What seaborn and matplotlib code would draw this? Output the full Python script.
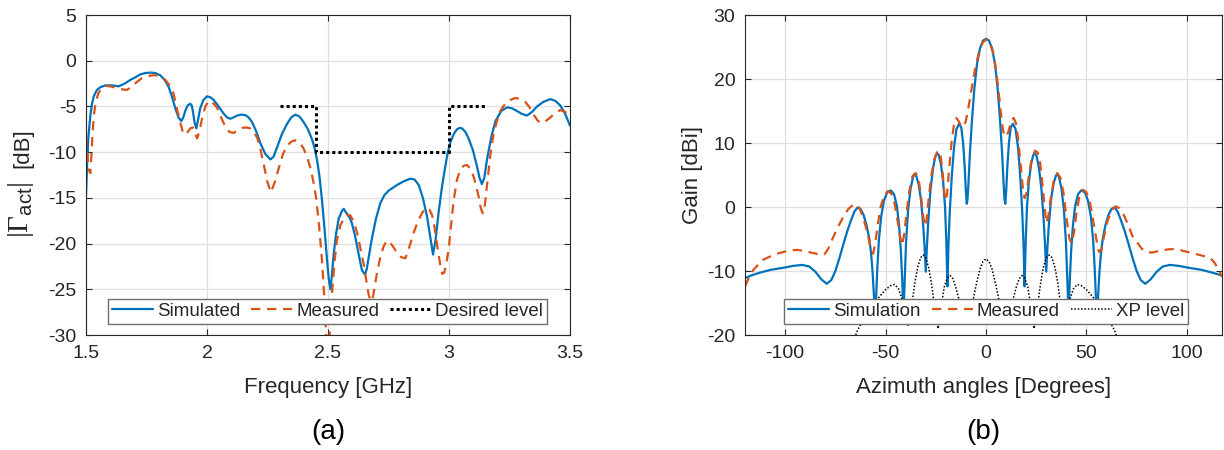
import numpy as np
import pandas as pd
import matplotlib
matplotlib.use("Agg")
import matplotlib.pyplot as plt
from matplotlib.ticker import FixedLocator, FixedFormatter
import seaborn as sns

# ---------------- data: panel (a) ----------------
sim_f = [1.500, 1.505, 1.510, 1.518, 1.525, 1.532, 1.545, 1.559, 1.580, 1.610, 1.635, 1.660, 1.683, 1.705, 1.724, 1.745, 1.766, 1.787, 1.807, 1.825, 1.842, 1.856, 1.869, 1.882, 1.894, 1.902, 1.910, 1.920, 1.931, 1.937, 1.942, 1.949, 1.956, 1.962, 1.972, 1.985, 2.000, 2.014, 2.028, 2.048, 2.069, 2.083, 2.096, 2.110, 2.124, 2.141, 2.158, 2.172, 2.186, 2.203, 2.220, 2.241, 2.262, 2.275, 2.289, 2.310, 2.331, 2.348, 2.365, 2.382, 2.399, 2.417, 2.434, 2.445, 2.455, 2.465, 2.475, 2.486, 2.496, 2.503, 2.510, 2.516, 2.523, 2.533, 2.544, 2.558, 2.565, 2.572, 2.580, 2.590, 2.599, 2.613, 2.627, 2.640, 2.653, 2.660, 2.667, 2.681, 2.698, 2.716, 2.733, 2.751, 2.768, 2.785, 2.812, 2.840, 2.858, 2.875, 2.892, 2.909, 2.922, 2.934, 2.945, 2.957, 2.971, 2.985, 2.995, 3.006, 3.020, 3.033, 3.044, 3.054, 3.068, 3.081, 3.099, 3.116, 3.126, 3.136, 3.146, 3.157, 3.175, 3.192, 3.216, 3.240, 3.260, 3.281, 3.300, 3.322, 3.343, 3.364, 3.390, 3.419, 3.440, 3.460, 3.480, 3.500]
sim_db = [-14.8, -11.0, -8.3, -6.0, -4.7, -3.9, -3.2, -2.9, -2.7, -2.7, -2.8, -2.5, -2.1, -1.8, -1.5, -1.35, -1.3, -1.35, -1.6, -2.1, -2.9, -4.0, -5.2, -6.2, -6.6, -6.2, -5.5, -4.9, -4.7, -4.9, -5.6, -6.8, -7.4, -6.6, -5.2, -4.3, -3.9, -4.0, -4.3, -5.0, -5.8, -6.2, -6.35, -6.2, -6.0, -5.9, -5.95, -6.2, -6.7, -7.7, -9.0, -10.2, -10.8, -10.5, -9.5, -8.0, -6.9, -6.2, -5.9, -6.1, -6.7, -7.5, -8.6, -9.6, -10.9, -12.7, -15.2, -18.5, -21.8, -23.8, -25.0, -23.5, -21.3, -19.0, -17.3, -16.4, -16.2, -16.5, -16.8, -17.2, -17.8, -19.3, -21.2, -22.9, -23.4, -22.8, -21.7, -19.5, -17.3, -15.6, -14.7, -14.2, -13.9, -13.6, -13.2, -12.9, -13.0, -13.6, -15.0, -17.0, -19.2, -21.2, -19.5, -16.6, -13.8, -11.5, -10.0, -8.9, -8.0, -7.5, -7.35, -7.4, -7.8, -8.5, -9.8, -11.6, -12.8, -13.5, -12.8, -10.8, -8.3, -6.6, -5.5, -5.1, -5.2, -5.5, -5.8, -6.0, -5.6, -5.0, -4.5, -4.2, -4.4, -4.9, -5.8, -7.1]

meas_f = [1.500, 1.505, 1.511, 1.518, 1.522, 1.527, 1.532, 1.540, 1.552, 1.566, 1.580, 1.600, 1.614, 1.640, 1.669, 1.690, 1.711, 1.732, 1.752, 1.773, 1.793, 1.810, 1.828, 1.845, 1.862, 1.876, 1.890, 1.900, 1.910, 1.920, 1.931, 1.942, 1.950, 1.959, 1.968, 1.979, 1.993, 2.007, 2.020, 2.041, 2.058, 2.076, 2.093, 2.110, 2.128, 2.145, 2.162, 2.179, 2.193, 2.207, 2.220, 2.234, 2.249, 2.264, 2.280, 2.296, 2.314, 2.331, 2.348, 2.365, 2.382, 2.399, 2.413, 2.427, 2.440, 2.452, 2.464, 2.475, 2.485, 2.493, 2.500, 2.507, 2.512, 2.517, 2.527, 2.537, 2.551, 2.565, 2.578, 2.592, 2.606, 2.620, 2.633, 2.647, 2.658, 2.668, 2.677, 2.686, 2.702, 2.716, 2.730, 2.741, 2.751, 2.768, 2.785, 2.803, 2.820, 2.837, 2.854, 2.871, 2.888, 2.900, 2.909, 2.920, 2.930, 2.940, 2.951, 2.963, 2.972, 2.980, 2.990, 2.999, 3.009, 3.019, 3.033, 3.047, 3.060, 3.074, 3.088, 3.102, 3.113, 3.123, 3.132, 3.140, 3.148, 3.157, 3.170, 3.184, 3.198, 3.212, 3.232, 3.253, 3.270, 3.281, 3.298, 3.315, 3.333, 3.350, 3.365, 3.378, 3.395, 3.419, 3.440, 3.460, 3.480, 3.500]
meas_db = [-8.3, -10.0, -11.9, -12.3, -10.5, -8.0, -6.1, -4.5, -3.5, -3.0, -2.75, -2.8, -2.9, -3.1, -3.2, -2.8, -2.3, -1.9, -1.7, -1.6, -1.6, -1.8, -2.1, -2.7, -3.6, -5.3, -6.8, -7.8, -8.1, -7.8, -7.4, -7.3, -7.9, -8.5, -7.8, -6.4, -5.0, -4.4, -4.5, -5.1, -6.2, -7.2, -7.8, -7.9, -7.6, -7.35, -7.3, -7.4, -7.8, -8.4, -9.6, -11.3, -13.2, -14.4, -13.3, -11.8, -10.2, -9.3, -8.85, -8.7, -8.9, -9.6, -10.5, -11.7, -13.3, -15.2, -18.3, -21.8, -26.0, -30.5, -32.0, -30.0, -27.5, -25.3, -22.0, -19.6, -18.0, -17.3, -16.9, -16.9, -17.6, -18.8, -20.4, -22.2, -24.0, -25.6, -26.3, -25.8, -23.3, -21.5, -20.3, -19.8, -19.7, -20.3, -21.0, -21.5, -21.6, -20.3, -18.8, -17.6, -16.7, -16.2, -16.1, -16.3, -16.9, -18.2, -20.2, -22.2, -23.3, -23.2, -22.0, -20.5, -17.9, -15.3, -13.0, -11.9, -11.5, -11.4, -11.8, -12.7, -13.8, -14.9, -16.2, -16.7, -15.8, -13.6, -10.5, -8.0, -6.6, -5.5, -4.7, -4.3, -4.1, -4.1, -4.25, -4.5, -5.1, -5.9, -6.5, -6.8, -6.7, -6.2, -5.7, -5.4, -5.6, -6.2]

des_f = [2.30, 2.45, 2.45, 3.00, 3.00, 3.15]
des_db = [-5, -5, -10, -10, -5, -5]

# ---------------- data: panel (b) ----------------
simb_deg = [-120, -116, -112, -107, -101, -96, -91.5, -88, -85, -82, -79.3, -77, -75, -73, -71, -69, -67, -65.5, -64, -62.5, -61, -59.5, -58.2, -57.2, -56.4, -55.8, -55.2, -54.7, -54.1, -53.3, -52.2, -50.8, -49.2, -47.4, -45.8, -44.4, -43.3, -42.4, -41.7, -41.1, -40.5, -39.8, -38.8, -37.6, -36.4, -35.8, -34.8, -33.6, -32.4, -31.4, -30.6, -30.0, -29.4, -28.6, -27.6, -26.4, -25.3, -24.5, -23.5, -22.4, -21.3, -20.4, -19.8, -19.2, -18.7, -18.0, -17.0, -15.9, -14.7, -13.4, -12.3, -11.4, -10.6, -10.1, -9.6, -9.2, -8.7, -8.0, -7.0, -5.8, -4.5, -3.0, -1.5, 0,
            1.5, 3.0, 4.5, 5.8, 7.0, 8.0, 8.7, 9.2, 9.6, 10.1, 10.6, 11.4, 12.3, 13.4, 14.7, 15.9, 17.0, 18.0, 18.7, 19.2, 19.8, 20.4, 21.3, 22.4, 23.5, 24.5, 25.3, 26.4, 27.6, 28.6, 29.4, 30.0, 30.6, 31.4, 32.4, 33.6, 34.8, 35.8, 36.4, 37.6, 38.8, 39.8, 40.5, 41.1, 41.7, 42.4, 43.3, 44.4, 45.8, 47.4, 49.2, 50.8, 52.2, 53.3, 54.1, 54.7, 55.2, 55.8, 56.4, 57.2, 58.2, 59.5, 61, 62.5, 64, 65.5, 67, 69, 71, 73, 75, 77, 79.3, 82, 85, 88, 91.5, 96, 101, 107, 112, 117.5]
simb_db = [-11.1, -10.6, -10.2, -9.8, -9.5, -9.2, -9.05, -9.3, -10.1, -11.3, -12.0, -11.4, -10.0, -8.0, -5.8, -3.7, -1.9, -0.7, -0.1, -0.3, -1.2, -2.8, -4.8, -7.3, -10.5, -14, -17.2, -14, -9.5, -5.0, -1.5, 1.0, 2.3, 2.6, 2.0, 0.2, -2.8, -6.8, -11.5, -17.2, -11.5, -5.5, -0.5, 2.8, 4.6, 5.1, 4.9, 3.6, 1.2, -2.3, -6.2, -10.1, -6.0, -1.5, 2.8, 6.0, 7.8, 8.4, 8.1, 6.6, 3.8, 0.0, -5.0, -12.4, -6.0, -0.5, 5.0, 9.4, 12.2, 13.0, 12.4, 10.0, 6.2, 2.8, 0.5, 1.2, 4.0, 8.5, 13.5, 18.5, 22.3, 24.8, 26.0, 26.3,
           26.0, 24.8, 22.3, 18.5, 13.5, 8.5, 4.0, 1.2, 0.5, 2.8, 6.2, 10.0, 12.4, 13.0, 12.2, 9.4, 5.0, -0.5, -6.0, -12.4, -5.0, 0.0, 3.8, 6.6, 8.1, 8.4, 7.8, 6.0, 2.8, -1.5, -6.0, -10.1, -6.2, -2.3, 1.2, 3.6, 4.9, 5.1, 4.6, 2.8, -0.5, -5.5, -11.5, -17.2, -11.5, -6.8, -2.8, 0.2, 2.0, 2.6, 2.3, 1.0, -1.5, -5.0, -9.5, -14, -17.2, -14, -10.5, -7.3, -4.8, -2.8, -1.2, -0.3, -0.05, -0.7, -1.9, -3.7, -5.8, -8.0, -10.0, -11.4, -12.0, -11.3, -10.1, -9.3, -9.05, -9.2, -9.5, -9.8, -10.2, -10.7]

measb_deg = [-120, -118, -116, -114, -112, -108, -103, -98, -94, -90, -86, -83, -80.5, -78.5, -76.5, -74, -71, -68.5, -66, -64.5, -63, -61.5, -60, -58.5, -57.2, -56.2, -55.2, -54, -52.5, -50.8, -48.8, -47, -45.5, -44, -42.8, -41.8, -40.8, -39.6, -38.2, -36.6, -35, -33.6, -32.4, -31.4, -30.4, -29.6, -28.5, -27.2, -25.6, -24, -22.6, -21.6, -20.8, -20.2, -19.4, -18.4, -17.2, -16, -14.8, -13.6, -12.4, -11.2, -10, -8.6, -7, -5.3, -3.5, -1.8, 0,
             1.8, 3.5, 5.0, 6.3, 7.3, 8.2, 9.0, 10.0, 11.2, 12.6, 13.8, 15.0, 16.2, 17.4, 18.4, 19.2, 20.2, 21.4, 22.8, 24.4, 25.8, 27, 28.2, 29.2, 30.0, 31.0, 32.3, 33.8, 35.4, 37, 38.6, 40, 41.4, 42.6, 43.8, 45.2, 46.8, 48.3, 50, 51.8, 53.3, 54.8, 56.2, 57.4, 58.8, 60.5, 62.5, 64.5, 66.5, 68.5, 70.5, 73, 75, 77.5, 80, 83, 87, 91, 95, 100, 106.5, 111.5, 114, 116, 117.5]
measb_db = [-12.4, -11.0, -9.9, -9.2, -8.4, -7.8, -7.2, -6.8, -6.7, -6.9, -7.2, -7.4, -7.4, -6.5, -5.0, -3.3, -1.5, -0.3, 0.4, 0.4, -0.2, -1.4, -2.9, -4.8, -6.8, -7.3, -5.8, -3.0, 0.0, 1.8, 2.5, 2.0, 0.5, -2.2, -4.6, -6.0, -4.4, -1.0, 2.5, 4.8, 5.3, 4.4, 1.8, -1.2, -3.0, -2.0, 1.5, 5.0, 7.6, 8.8, 8.0, 5.4, 2.4, 1.0, 2.0, 5.8, 10.0, 12.8, 13.9, 13.4, 12.6, 12.5, 13.5, 15.8, 18.8, 21.8, 24.2, 25.6, 26.2,
            25.7, 24.2, 21.5, 18.0, 15.0, 12.6, 11.2, 11.0, 11.8, 13.5, 13.9, 13.0, 10.0, 6.0, 2.8, 1.4, 2.2, 5.0, 7.6, 8.8, 8.5, 6.8, 3.2, 0.0, -2.5, -1.5, 1.5, 4.2, 5.3, 4.6, 2.2, -1.5, -4.8, -5.7, -4.0, -0.5, 2.1, 2.7, 2.3, 0.6, -2.0, -4.8, -7.0, -6.8, -4.5, -2.2, -0.5, 0.1, -0.2, -1.2, -2.6, -4.6, -5.4, -6.5, -7.1, -7.1, -6.8, -6.6, -6.6, -7.0, -7.5, -7.9, -8.8, -9.9, -10.9]

xp_deg = [-66, -64, -61, -57, -53, -50, -47.5, -45.5, -43.5, -42, -40.5, -38.8, -37, -35.5, -34, -32.5, -31.3, -30, -28.5, -27, -25.5, -23.9, -22.3, -20.8, -19.3, -17.9, -16.5, -15, -13, -11, -9, -7, -5, -3, -1.5, 0,
          1.5, 3, 5, 7, 9, 11, 13, 15, 16.5, 17.9, 19.3, 20.8, 22.3, 23.9, 25.5, 27, 28.5, 30, 31.5, 32.8, 34.3, 35.8, 37.2, 38.8, 40.5, 42, 43.5, 45.5, 47.5, 50, 53, 57, 61, 64, 66]
xp_db = [-21, -19.3, -17.5, -15.5, -14, -12.9, -12.3, -12.1, -12.8, -14.2, -16.3, -18.5, -15.5, -12, -9.4, -7.9, -7.5, -7.9, -9.5, -12.3, -15.8, -19, -15.5, -12.5, -11.1, -10.7, -11.2, -12.6, -15, -17, -17.6, -15.5, -12.3, -9.7, -8.5, -8.1,
         -8.5, -9.7, -12.3, -15.5, -17.6, -17, -15, -12.6, -11.2, -10.7, -11.1, -12.5, -15.5, -19, -15.8, -12.3, -9.5, -7.9, -7.5, -7.9, -9.4, -12, -15.5, -18.5, -16.3, -14.2, -12.8, -12.1, -12.3, -12.9, -14, -15.5, -17.5, -19.3, -21]

xticks_a = [1.5, 2.0, 2.5, 3.0, 3.5]
xticklabels_a = ["1.5", "2", "2.5", "3", "3.5"]
yticks_a = [-30, -25, -20, -15, -10, -5, 0, 5]
xticks_b = [-100, -50, 0, 50, 100]
yticks_b = [-20, -10, 0, 10, 20, 30]

# ---------------- style ----------------
sns.set_theme(style="white")
plt.rcParams["font.family"] = ["Liberation Sans", "DejaVu Sans"]
plt.rcParams["mathtext.fontset"] = "custom"
plt.rcParams["mathtext.rm"] = "Liberation Serif"
plt.rcParams["mathtext.sf"] = "Liberation Sans"
plt.rcParams["axes.unicode_minus"] = False

BLUE = "#0072BD"
RED = "#D95319"
TXT = "#262626"
GRID = "#dfdfdf"

fig = plt.figure(figsize=(12.24, 4.5), dpi=100)
ax1 = fig.add_axes([86 / 1224, 115 / 450, 484 / 1224, 320 / 450])
ax2 = fig.add_axes([745 / 1224, 115 / 450, 477 / 1224, 320 / 450])

df_sim = pd.DataFrame({"f": sim_f, "db": sim_db})
df_meas = pd.DataFrame({"f": meas_f, "db": meas_db})
df_des = pd.DataFrame({"f": des_f, "db": des_db})

sns.lineplot(data=df_sim, x="f", y="db", ax=ax1, color=BLUE, lw=1.6,
             estimator=None, sort=False, label="Simulated")
sns.lineplot(data=df_meas, x="f", y="db", ax=ax1, color=RED, lw=1.6,
             estimator=None, sort=False, label="Measured")
sns.lineplot(data=df_des, x="f", y="db", ax=ax1, color="black", lw=2.2,
             estimator=None, sort=False, label="Desired level")
l1 = ax1.get_lines()
l1[1].set_linestyle((0, (4.2, 3.0)))
l1[2].set_linestyle((0, (1, 1)))

df_simb = pd.DataFrame({"d": simb_deg, "g": simb_db})
df_measb = pd.DataFrame({"d": measb_deg, "g": measb_db})
df_xp = pd.DataFrame({"d": xp_deg, "g": xp_db})
sns.lineplot(data=df_simb, x="d", y="g", ax=ax2, color=BLUE, lw=1.6,
             estimator=None, sort=False, label="Simulation")
sns.lineplot(data=df_measb, x="d", y="g", ax=ax2, color=RED, lw=1.6,
             estimator=None, sort=False, label="Measured")
sns.lineplot(data=df_xp, x="d", y="g", ax=ax2, color="black", lw=1.1,
             estimator=None, sort=False, label="XP level")
l2 = ax2.get_lines()
l2[1].set_linestyle((0, (4.2, 3.0)))
l2[2].set_linestyle((0, (1, 1.2)))

for ax, xt, xtl, yt, xl, yl in [
    (ax1, xticks_a, xticklabels_a, yticks_a, (1.5, 3.5), (-30, 5)),
    (ax2, xticks_b, [str(v) for v in xticks_b], yticks_b, (-120, 117.5), (-20, 30)),
]:
    ax.set_xlim(*xl)
    ax.set_ylim(*yl)
    ax.xaxis.set_major_locator(FixedLocator(xt))
    ax.xaxis.set_major_formatter(FixedFormatter(xtl))
    ax.yaxis.set_major_locator(FixedLocator(yt))
    ax.yaxis.set_major_formatter(FixedFormatter([str(v) for v in yt]))
    ax.grid(True, color=GRID, lw=0.9)
    ax.set_axisbelow(True)
    for s in ax.spines.values():
        s.set_color(TXT)
        s.set_linewidth(0.8)
        s.set_visible(True)
    ax.tick_params(direction="in", length=4, width=0.8, colors=TXT,
                   labelsize=14, top=True, right=True, pad=7,
                   bottom=True, left=True)
    ax.set_facecolor("white")

ax1.set_xlabel("Frequency [GHz]", fontsize=16, color=TXT)
ax1.set_ylabel("")
ax2.set_xlabel("Azimuth angles [Degrees]", fontsize=16, color=TXT)
ax2.set_ylabel("Gain [dBi]", fontsize=16, color=TXT)
ax1.xaxis.set_label_coords(0.5, -0.13)
ax2.xaxis.set_label_coords(0.5, -0.13)
ax2.yaxis.set_label_coords((703 - 745) / 477, 0.5)

# left y label: |Gamma_act| (larger math part) + [dB]
fig.text(28.5 / 1224, 1 - 238 / 450, r"$|\Gamma_{\mathsf{act}}|$", fontsize=21,
         rotation=90, rotation_mode="anchor", ha="left", va="baseline", color=TXT)
fig.text(28.5 / 1224, 1 - 128 / 450, "[dB]", fontsize=16,
         rotation=90, rotation_mode="anchor", ha="right", va="baseline", color=TXT)

leg_kw = dict(ncol=3, loc="lower center", fontsize=13.5, frameon=True,
              fancybox=False, framealpha=1, edgecolor="#6e6e6e",
              borderpad=0.22, handlelength=2.2, handletextpad=0.2,
              columnspacing=0.6, borderaxespad=0)
lg1 = ax1.legend(bbox_to_anchor=(0.499, 0.034), **leg_kw)
lg2 = ax2.legend(bbox_to_anchor=(0.505, 0.034), **leg_kw)
for lg in (lg1, lg2):
    lg.get_frame().set_linewidth(1.0)
    for t in lg.get_texts():
        t.set_color(TXT)

fig.text((86 + 570) / 2 / 1224, 1 - 432 / 450, "(a)", fontsize=20,
         ha="center", va="center", color="black")
fig.text((745 + 1222) / 2 / 1224, 1 - 432 / 450, "(b)", fontsize=20,
         ha="center", va="center", color="black")

fig.savefig("out.png", dpi=100, facecolor="white")
